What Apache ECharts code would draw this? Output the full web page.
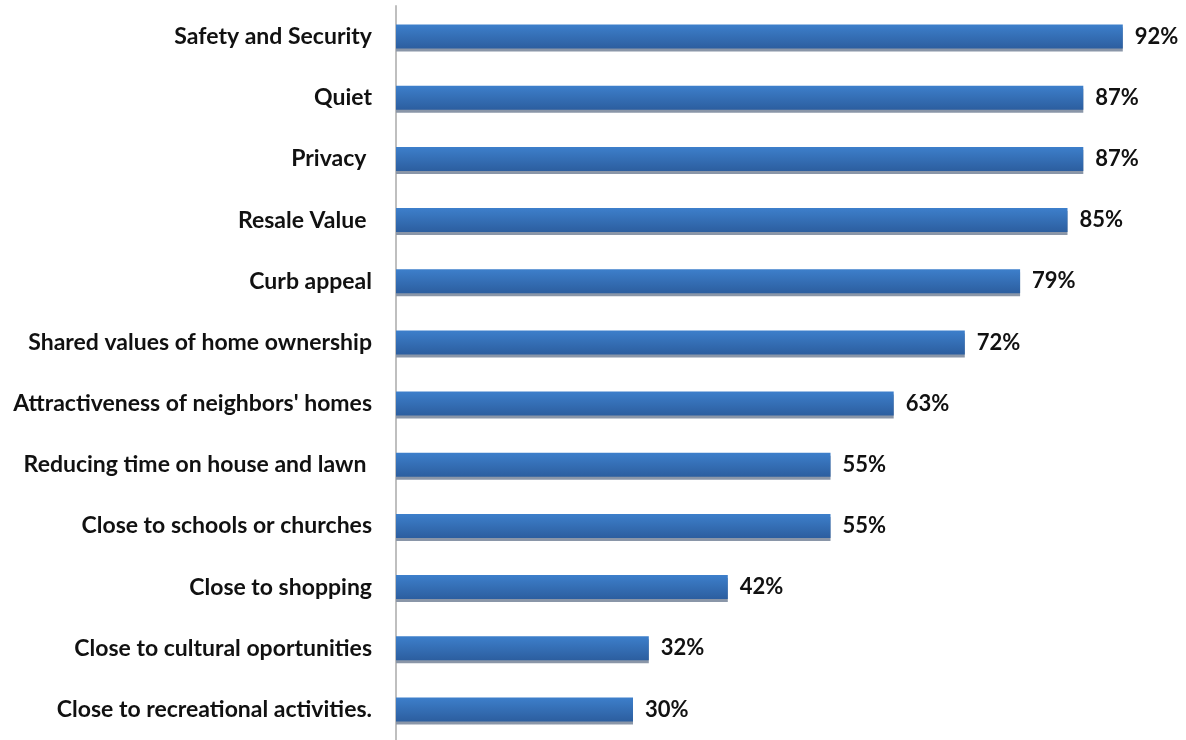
<!DOCTYPE html>
<html>
<head>
<meta charset="utf-8">
<script src="https://cdn.jsdelivr.net/npm/echarts@6/dist/echarts.min.js"></script>
<style>
  html, body { margin: 0; padding: 0; background: #ffffff; }
  #chart { width: 1186px; height: 740px; }
</style>
</head>
<body>
<div id="chart"></div>
<script>
// Home features rated important, listed top to bottom
const categories = [
  'Safety and Security',
  'Quiet',
  'Privacy ',
  'Resale Value ',
  'Curb appeal',
  'Shared values of home ownership',
  "Attractiveness of neighbors' homes",
  'Reducing time on house and lawn ',
  'Close to schools or churches',
  'Close to shopping',
  'Close to cultural oportunities',
  'Close to recreational activities.'
];
const values = [92, 87, 87, 85, 79, 72, 63, 55, 55, 42, 32, 30];

const chart = echarts.init(document.getElementById('chart'));
const labelFont = 'Lato, "Open Sans", "DejaVu Sans", sans-serif';

chart.setOption({
  animation: false,
  grid: { left: 396, right: -3, top: 6, bottom: -4, containLabel: false },
  xAxis: {
    type: 'value', min: 0, max: 100, show: false
  },
  yAxis: {
    type: 'category',
    inverse: true,
    data: categories,
    axisLine: { show: true, lineStyle: { color: '#bfbfbf', width: 2 } },
    axisTick: { show: false },
    axisLabel: {
      margin: 24, color: '#111111', fontFamily: labelFont,
      fontWeight: 'bold', fontSize: 23
    },
    splitLine: { show: false }
  },
  series: [{
    type: 'bar',
    data: values,
    barWidth: 24,
    itemStyle: {
      color: new echarts.graphic.LinearGradient(0, 0, 0, 1, [
        { offset: 0, color: '#3d7fcb' },
        { offset: 1, color: '#2c5e9f' }
      ]),
      shadowColor: '#8a96a8',
      shadowOffsetY: 3,
      shadowOffsetX: 0,
      shadowBlur: 0
    },
    label: {
      show: true, position: 'right', distance: 12,
      formatter: p => p.value + '%',
      color: '#111111', fontFamily: labelFont, fontWeight: 'bold', fontSize: 22
    }
  }]
});
</script>
</body>
</html>
